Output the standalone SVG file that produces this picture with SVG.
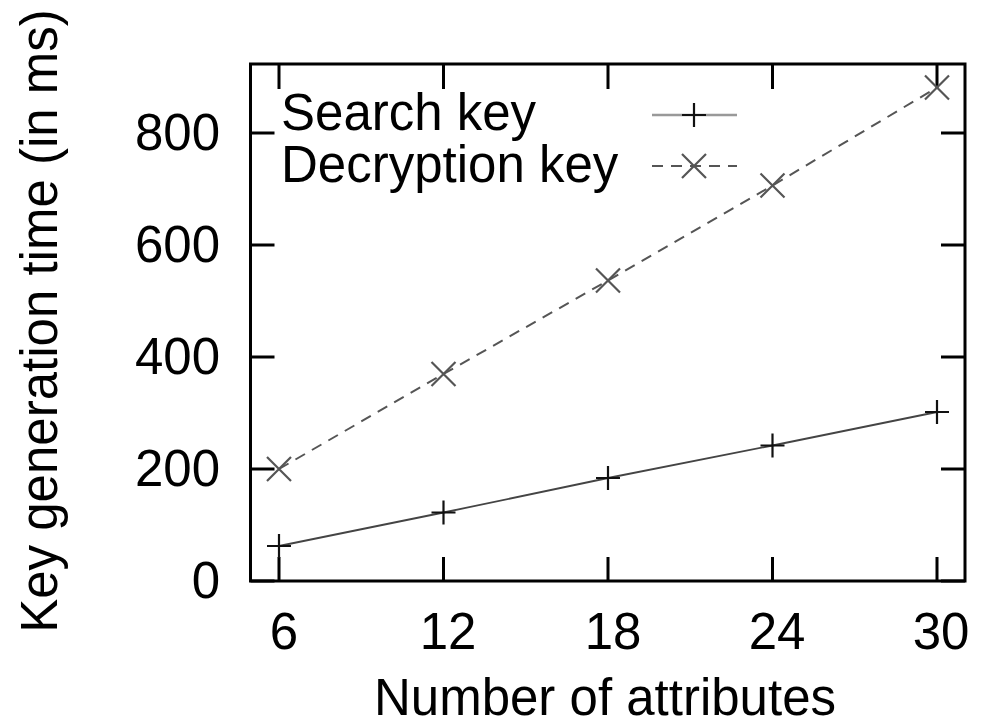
<svg xmlns="http://www.w3.org/2000/svg" width="984" height="728" viewBox="0 0 984 728">
<defs>
<style>
text{font-family:"Liberation Sans",Arial,sans-serif;font-size:51px;fill:#000}
.frame{fill:none;stroke:#000;stroke-width:3}
.tick{stroke:#000;stroke-width:3}
.search{fill:none;stroke:#444;stroke-width:1.8}
.decr{fill:none;stroke:#555;stroke-width:2;stroke-dasharray:11 8}
.plus{stroke:#111;stroke-width:2.2}
.cross{stroke:#555;stroke-width:2.2}
</style>
<path id="p" d="M-12,0H12M0,-12V12"/>
<path id="x" d="M-12,-12L12,12M-12,12L12,-12"/>
</defs>
<rect fill="#fff" width="984" height="728"/>
<g id="axes">
<rect class="frame" x="250.5" y="64" width="714.5" height="517"/>
<g class="tick">
<path d="M250.5,581h24M965,581h-24M250.5,469h24M965,469h-24M250.5,357h24M965,357h-24M250.5,245h24M965,245h-24M250.5,133h24M965,133h-24"/>
<path d="M279,581v-24M279,64v25M443.5,581v-24M443.5,64v25M608,581v-24M608,64v25M772.5,581v-24M772.5,64v25M937,581v-24M937,64v25"/>
</g>
<g text-anchor="end">
<text x="220" y="598">0</text>
<text x="220" y="486">200</text>
<text x="220" y="374">400</text>
<text x="220" y="262">600</text>
<text x="220" y="150">800</text>
</g>
<g text-anchor="middle">
<text x="284" y="649">6</text>
<text x="448" y="649">12</text>
<text x="613" y="649">18</text>
<text x="777" y="649">24</text>
<text x="941" y="649">30</text>
<text x="605" y="715">Number of attributes</text>
<text transform="translate(57,321) rotate(-90)">Key generation time (in ms)</text>
</g>
</g>
<g id="connectors">
<polyline id="search-line" class="search" points="279,546 443.5,512.5 608,478 772.5,445.5 937,412"/>
<polyline id="decr-line" class="decr" points="279,469 443.5,374 608,280.5 772.5,185.5 937,87.5"/>
</g>
<g id="search-points" class="plus">
<use href="#p" x="279" y="546"/>
<use href="#p" x="443.5" y="512.5"/>
<use href="#p" x="608" y="478"/>
<use href="#p" x="772.5" y="445.5"/>
<use href="#p" x="937" y="412"/>
</g>
<g id="decr-points" class="cross">
<use href="#x" x="279" y="469"/>
<use href="#x" x="443.5" y="374"/>
<use href="#x" x="608" y="280.5"/>
<use href="#x" x="772.5" y="185.5"/>
<use href="#x" x="937" y="87.5"/>
</g>
<g id="legend">
<text x="281" y="130">Search key</text>
<text x="281" y="182">Decryption key</text>
<path d="M652,115H737" stroke="#999" stroke-width="2.5"/>
<use href="#p" x="694" y="115" class="plus"/>
<path d="M652,166H737" class="decr" stroke="#888"/>
<use href="#x" x="694" y="166" class="cross"/>
</g>
</svg>
